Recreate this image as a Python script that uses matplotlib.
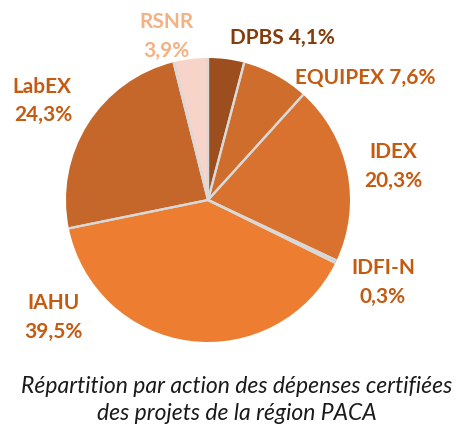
import matplotlib
matplotlib.use("Agg")
import matplotlib.pyplot as plt
import numpy as np

categories = ["DPBS", "EQUIPEX", "IDEX", "IDFI-N", "IAHU", "LabEX", "RSNR"]
values = [4.1, 7.6, 20.3, 0.3, 39.5, 24.3, 3.9]
value_labels = ["4,1%", "7,6%", "20,3%", "0,3%", "39,5%", "24,3%", "3,9%"]
caption = "Répartition par action des dépenses certifiées\ndes projets de la région PACA"

slice_colors = ["#9C4E1E", "#CF6D2C", "#D9722F", "#E07A35", "#ED7D31", "#C5662A", "#F6D4C9"]
label_colors = ["#843C0C", "#C55A11", "#C55A11", "#C55A11", "#C55A11", "#C55A11", "#F4B183"]

W, H = 461, 425
fig = plt.figure(figsize=(W / 100, H / 100), dpi=100)
ax = fig.add_axes([0, 0, 1, 1])
ax.axis("off")

wedges, _ = ax.pie(values, colors=slice_colors, startangle=90, counterclock=False,
                   center=(208, H - 200), radius=142,
                   wedgeprops=dict(linewidth=0))
ax.set_xlim(0, W)
ax.set_ylim(0, H)
ax.set_aspect("equal")

# separator lines between slices
for w in wedges:
    cx, cy = w.center
    r = w.r
    for th in (w.theta1, w.theta2):
        t = np.deg2rad(th)
        ax.plot([cx, cx + r * np.cos(t)], [cy, cy + r * np.sin(t)],
                color="#D9D9D9", lw=1.6, solid_capstyle="butt", zorder=3)

font = "Lato"
fs = 15
pos = {
    "DPBS": [(282, 38, "DPBS " + value_labels[0])],
    "EQUIPEX": [(365, 78, "EQUIPEX " + value_labels[1])],
    "IDEX": [(393, 152, "IDEX"), (393, 181, value_labels[2])],
    "IDFI-N": [(383, 268, "IDFI-N"), (383, 297, value_labels[3])],
    "IAHU": [(53, 303, "IAHU"), (53, 332, value_labels[4])],
    "LabEX": [(42, 87, "LabEX"), (43, 115, value_labels[5])],
    "RSNR": [(166, 22, "RSNR"), (166, 51, value_labels[6])],
}
for i, c in enumerate(categories):
    for (x, y, t) in pos[c]:
        ax.text(x, H - y, t, ha="center", va="center", fontsize=fs,
                fontweight="bold", color=label_colors[i], family=font)

ax.text(237, H - 400, caption, ha="center", va="center", fontsize=16.5,
        style="italic", color="#1a1a1a", family=font, linespacing=1.3)

fig.savefig("out.png", dpi=100)
